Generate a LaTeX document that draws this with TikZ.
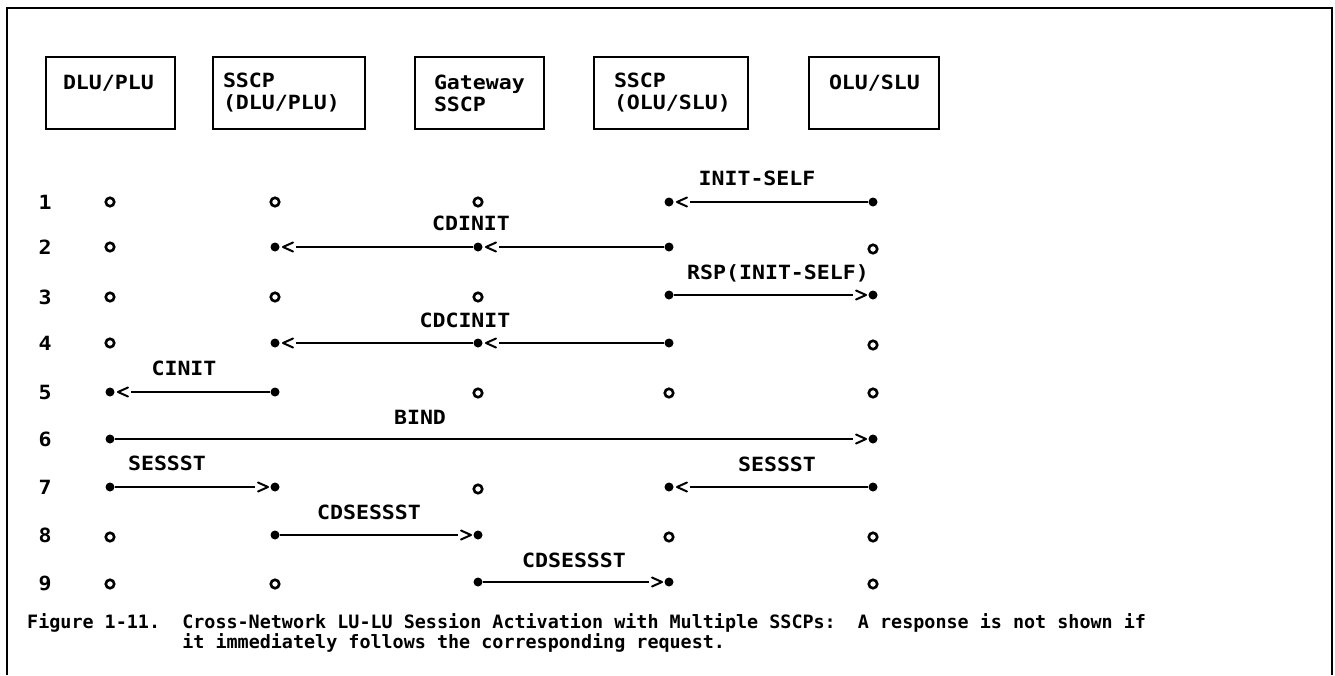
\documentclass[tikz,border=0pt]{standalone}
\usepackage{fontspec}
\newfontfamily\dfont[FakeStretch=1.1]{DejaVu Sans Mono}
\newfontfamily\cfont{DejaVu Sans Mono}
\newcommand\chevL[1]{\draw[chev] ([shift={(18,-4.5)}]#1.center) -- ([shift={(8,0)}]#1.center) -- ([shift={(18,4.5)}]#1.center);}
\newcommand\chevR[1]{\draw[chev] ([shift={(-17,-4.5)}]#1.center) -- ([shift={(-7,0)}]#1.center) -- ([shift={(-17,4.5)}]#1.center);}
\begin{document}
\begin{tikzpicture}[x=1pt,y=-1pt,
  dfnt/.style={font=\dfont\bfseries\fontsize{19.6}{22}\selectfont},
  box/.style={draw, line width=2pt, minimum height=72pt, align=left, anchor=west, inner ysep=0pt, dfnt},
  lbl/.style={inner sep=0pt, dfnt},
  num/.style={inner sep=0pt, dfnt},
  dot/.style={circle, fill, inner sep=0pt, minimum size=9pt},
  oc/.style={circle, draw, line width=2.6pt, inner sep=0pt, minimum size=8.5pt},
  msg/.style={line width=1.6pt},
  msgl/.style={msg, shorten >=16pt},
  msgr/.style={msg, shorten >=15pt},
  chev/.style={line width=2pt, line cap=round, line join=round},
  capt/.style={anchor=base west, inner sep=0pt, font=\cfont\bfseries\fontsize{18.4}{20}\selectfont}
]
\useasboundingbox (0,0) rectangle (1335,675);
% frame
\draw[line width=2pt] (7,675) -- (7,8) -- (1332,8) -- (1332,675);
% header boxes
\node[box, text width=95pt, inner xsep=17pt] (b1) at (45,93) {DLU/PLU\\\mbox{}};
\node[box, text width=132pt, inner xsep=10pt] (b2) at (212,93) {SSCP\\(DLU/PLU)};
\node[box, text width=91pt, inner xsep=19pt] (b3) at (414,93) {Gateway\\SSCP};
\node[box, text width=114pt, inner xsep=20pt] (b4) at (593,93) {SSCP\\(OLU/SLU)};
\node[box, text width=90pt, inner xsep=20pt] (b5) at (808,93) {OLU/SLU\\\mbox{}};
% row numbers
\foreach \r/\y in {1/202,2/247,3/297,4/343,5/392,6/439,7/487,8/535,9/583}
  \node[num] (n\r) at (45,\y) {\r};
% row 1
\node[oc] (p1-1) at (110,202) {};
\node[oc] (p2-1) at (275,202) {};
\node[oc] (p3-1) at (478,202) {};
\node[dot] (p4-1) at (669,202) {};
\node[dot] (p5-1) at (873,202) {};
\draw[msgl] (p5-1) -- (p4-1); \chevL{p4-1}
\node[lbl] (l1) at (757,178) {INIT-SELF};
% row 2
\node[oc] (p1-2) at (110,247) {};
\node[dot] (p2-2) at (275,247) {};
\node[dot] (p3-2) at (478,247) {};
\node[dot] (p4-2) at (669,247) {};
\node[oc] (p5-2) at (873,249) {};
\draw[msgl] (p4-2) -- (p3-2); \chevL{p3-2}
\draw[msgl] (p3-2) -- (p2-2); \chevL{p2-2}
\node[lbl] (l2) at (471,223) {CDINIT};
% row 3
\node[oc] (p1-3) at (110,297) {};
\node[oc] (p2-3) at (275,297) {};
\node[oc] (p3-3) at (478,297) {};
\node[dot] (p4-3) at (669,295) {};
\node[dot] (p5-3) at (873,295) {};
\draw[msgr] (p4-3) -- (p5-3); \chevR{p5-3}
\node[lbl] (l3) at (778,273) {RSP(INIT-SELF)};
% row 4
\node[oc] (p1-4) at (110,343) {};
\node[dot] (p2-4) at (275,343) {};
\node[dot] (p3-4) at (478,343) {};
\node[dot] (p4-4) at (669,343) {};
\node[oc] (p5-4) at (873,345) {};
\draw[msgl] (p4-4) -- (p3-4); \chevL{p3-4}
\draw[msgl] (p3-4) -- (p2-4); \chevL{p2-4}
\node[lbl] (l4) at (465,320) {CDCINIT};
% row 5
\node[dot] (p1-5) at (110,392) {};
\node[dot] (p2-5) at (275,392) {};
\node[oc] (p3-5) at (478,393) {};
\node[oc] (p4-5) at (669,393) {};
\node[oc] (p5-5) at (873,393) {};
\draw[msgl] (p2-5) -- (p1-5); \chevL{p1-5}
\node[lbl] (l5) at (184,368) {CINIT};
% row 6
\node[dot] (p1-6) at (110,439) {};
\node[dot] (p5-6) at (873,439) {};
\draw[msgr] (p1-6) -- (p5-6); \chevR{p5-6}
\node[lbl] (l6) at (420,417) {BIND};
% row 7
\node[dot] (p1-7) at (110,487) {};
\node[dot] (p2-7) at (275,487) {};
\node[oc] (p3-7) at (478,489) {};
\node[dot] (p4-7) at (669,487) {};
\node[dot] (p5-7) at (873,487) {};
\draw[msgr] (p1-7) -- (p2-7); \chevR{p2-7}
\draw[msgl] (p5-7) -- (p4-7); \chevL{p4-7}
\node[lbl] (l7a) at (167,463) {SESSST};
\node[lbl] (l7b) at (777,464) {SESSST};
% row 8
\node[oc] (p1-8) at (110,537) {};
\node[dot] (p2-8) at (275,535) {};
\node[dot] (p3-8) at (478,535) {};
\node[oc] (p4-8) at (669,537) {};
\node[oc] (p5-8) at (873,537) {};
\draw[msgr] (p2-8) -- (p3-8); \chevR{p3-8}
\node[lbl] (l8) at (369,512) {CDSESSST};
% row 9
\node[oc] (p1-9) at (110,584) {};
\node[oc] (p2-9) at (275,584) {};
\node[dot] (p3-9) at (478,582) {};
\node[dot] (p4-9) at (669,582) {};
\node[oc] (p5-9) at (873,584) {};
\draw[msgr] (p3-9) -- (p4-9); \chevR{p4-9}
\node[lbl] (l9) at (574,560) {CDSESSST};
% caption
\node[capt] (cap1) at (27,628) {Figure 1-11.~~Cross-Network LU-LU Session Activation with Multiple SSCPs:~~A response is not shown if};
\node[capt] (cap2) at (27,648) {\phantom{Figure 1-11.~~}it immediately follows the corresponding request.};
\end{tikzpicture}
\end{document}
